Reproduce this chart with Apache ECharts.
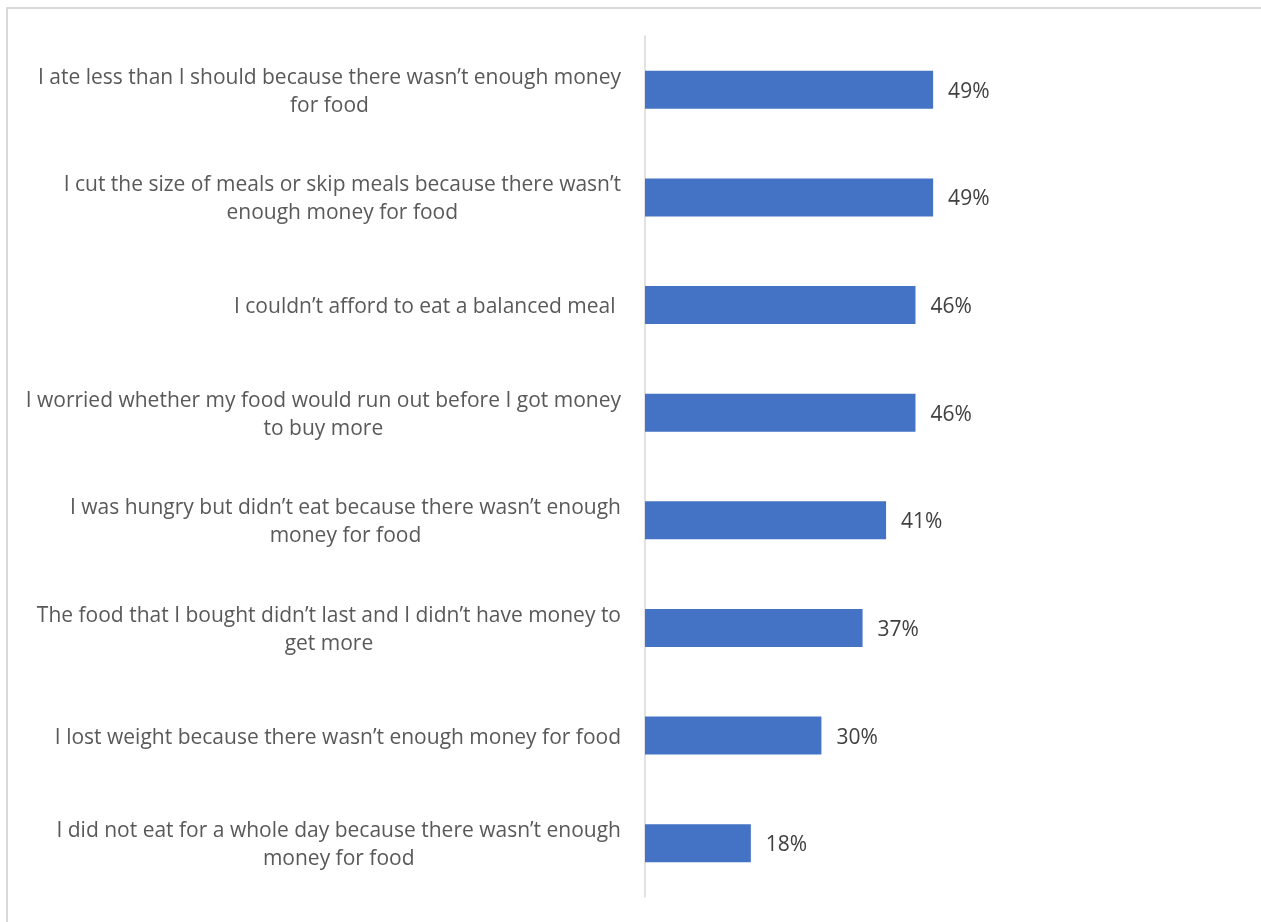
<!DOCTYPE html>
<html>
<head>
<meta charset="utf-8">
<script src="https://cdn.jsdelivr.net/npm/echarts@6/dist/echarts.min.js"></script>
<style>
  html, body { margin: 0; padding: 0; background: #fff; overflow: hidden; }
  #frame { position: absolute; left: 6px; top: 7px; width: 1400px; height: 1100px;
           border-left: 2px solid #d9d9d9; border-top: 2px solid #d9d9d9; }
  #chart { position: absolute; left: 0; top: 0; width: 1261px; height: 922px; }
</style>
</head>
<body>
<div id="frame"></div>
<div id="chart"></div>
<script>
// Food insecurity experiences, share of respondents (%)
const categories = [
  'I ate less than I should because there wasn\u2019t enough money\nfor food',
  'I cut the size of meals or skip meals because there wasn\u2019t\nenough money for food',
  'I couldn\u2019t afford to eat a balanced meal ',
  'I worried whether my food would run out before I got money\nto buy more',
  'I was hungry but didn\u2019t eat because there wasn\u2019t enough\nmoney for food',
  'The food that I bought didn\u2019t last and I didn\u2019t have money to\nget more',
  'I lost weight because there wasn\u2019t enough money for food',
  'I did not eat for a whole day because there wasn\u2019t enough\nmoney for food'
];
const values = [49, 49, 46, 46, 41, 37, 30, 18];

const FONT = '"Open Sans", "Noto Sans", sans-serif';
const chart = echarts.init(document.getElementById('chart'), null, { renderer: 'canvas' });

chart.setOption({
  backgroundColor: 'transparent',
  animation: false,
  grid: { left: 645, right: 28, top: 36, bottom: 25, containLabel: false },
  xAxis: {
    type: 'value', min: 0, max: 100, show: false
  },
  yAxis: {
    type: 'category',
    data: categories,
    inverse: true,
    axisLine: { show: true, lineStyle: { color: '#d9d9d9', width: 1.5 } },
    axisTick: { show: false },
    splitLine: { show: false },
    axisLabel: {
      margin: 24,
      align: 'right',
      padding: [4, 0, 0, 0],
      // each line is centred inside the right-anchored label block
      formatter: v => v.split('\n').map(l => '{c|' + l + '}').join('\n'),
      rich: {
        c: { align: 'center', fontFamily: FONT, fontSize: 21, color: '#595959', lineHeight: 28 }
      }
    }
  },
  series: [{
    type: 'bar',
    data: values,
    barWidth: 38,
    itemStyle: { color: '#4472c4' },
    label: {
      show: true,
      position: 'right',
      distance: 15,
      offset: [0, 2],
      formatter: p => p.value + '%',
      fontFamily: FONT,
      fontSize: 21,
      color: '#404040'
    }
  }]
});
</script>
</body>
</html>
